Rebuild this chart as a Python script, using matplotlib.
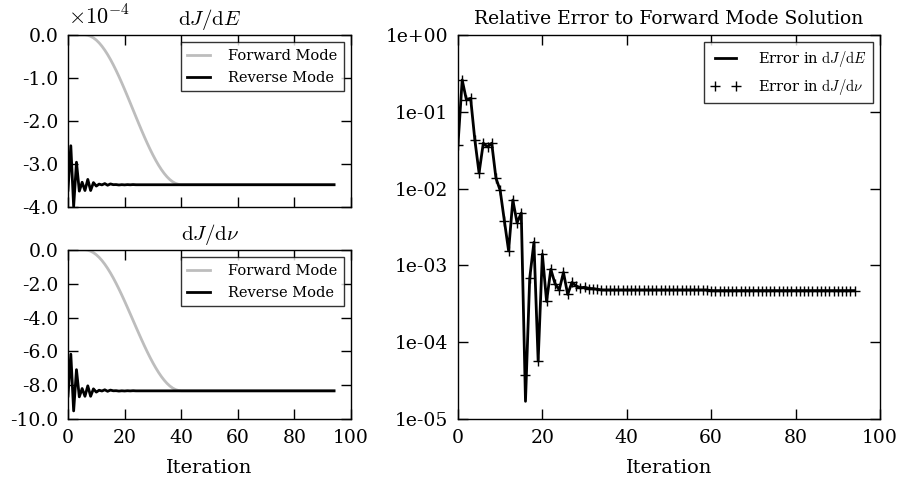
import matplotlib
matplotlib.use("Agg")
import matplotlib.pyplot as plt
from matplotlib.ticker import FormatStrFormatter, FuncFormatter, FixedLocator

plt.rcParams['font.family'] = ['DejaVu Serif']
plt.rcParams['mathtext.fontset'] = 'cm'
plt.rcParams['axes.unicode_minus'] = False

iterations = list(range(95))

# dJ/dE in units of 1e-4
fwd_dE = [0.0, 0.0, 0.0, 0.0, 0.0, 0.0, 0.0, -0.0074, -0.0296, -0.0664,
          -0.1175, -0.1824, -0.2606, -0.3514, -0.4541, -0.5678, -0.6914, -0.8240, -0.9644, -1.1114,
          -1.2638, -1.4203, -1.5795, -1.7400, -1.9005, -2.0597, -2.2162, -2.3686, -2.5156, -2.6560,
          -2.7886, -2.9122, -3.0259, -3.1286, -3.2194, -3.2976, -3.3625, -3.4136, -3.4504, -3.4726,
          -3.48, -3.48, -3.48, -3.48, -3.48, -3.48, -3.48, -3.48, -3.48, -3.48,
          -3.48, -3.48, -3.48, -3.48, -3.48, -3.48, -3.48, -3.48, -3.48, -3.48,
          -3.48, -3.48, -3.48, -3.48, -3.48, -3.48, -3.48, -3.48, -3.48, -3.48,
          -3.48, -3.48, -3.48, -3.48, -3.48, -3.48, -3.48, -3.48, -3.48, -3.48,
          -3.48, -3.48, -3.48, -3.48, -3.48, -3.48, -3.48, -3.48, -3.48, -3.48,
          -3.48, -3.48, -3.48, -3.48, -3.48]
rev_dE = [-3.609, -2.575, -3.990, -2.958, -3.630, -3.424, -3.616, -3.358, -3.616, -3.432,
          -3.513, -3.467, -3.485, -3.455, -3.493, -3.463, -3.480, -3.478, -3.487, -3.480,
          -3.485, -3.479, -3.483, -3.478, -3.482, -3.482, -3.482, -3.482, -3.482, -3.482,
          -3.482, -3.482, -3.482, -3.482, -3.482, -3.482, -3.482, -3.482, -3.482, -3.482,
          -3.482, -3.482, -3.482, -3.482, -3.482, -3.482, -3.482, -3.482, -3.482, -3.482,
          -3.482, -3.482, -3.482, -3.482, -3.482, -3.482, -3.482, -3.482, -3.482, -3.482,
          -3.482, -3.482, -3.482, -3.482, -3.482, -3.482, -3.482, -3.482, -3.482, -3.482,
          -3.482, -3.482, -3.482, -3.482, -3.482, -3.482, -3.482, -3.482, -3.482, -3.482,
          -3.482, -3.482, -3.482, -3.482, -3.482, -3.482, -3.482, -3.482, -3.482, -3.482,
          -3.482, -3.482, -3.482, -3.482, -3.482]

# dJ/dnu
fwd_dnu = [0.0, 0.0, 0.0, 0.0, 0.0, 0.0, 0.0, -0.0177, -0.0709, -0.1590,
           -0.2813, -0.4367, -0.6238, -0.8412, -1.0871, -1.3590, -1.6551, -1.9725, -2.3086, -2.6604,
           -3.0252, -3.3997, -3.7807, -4.1650, -4.5493, -4.9303, -5.3048, -5.6696, -6.0214, -6.3575,
           -6.6749, -6.9710, -7.2429, -7.4888, -7.7062, -7.8933, -8.0487, -8.1710, -8.2591, -8.3123,
           -8.33, -8.33, -8.33, -8.33, -8.33, -8.33, -8.33, -8.33, -8.33, -8.33,
           -8.33, -8.33, -8.33, -8.33, -8.33, -8.33, -8.33, -8.33, -8.33, -8.33,
           -8.33, -8.33, -8.33, -8.33, -8.33, -8.33, -8.33, -8.33, -8.33, -8.33,
           -8.33, -8.33, -8.33, -8.33, -8.33, -8.33, -8.33, -8.33, -8.33, -8.33,
           -8.33, -8.33, -8.33, -8.33, -8.33, -8.33, -8.33, -8.33, -8.33, -8.33,
           -8.33, -8.33, -8.33, -8.33, -8.33]
rev_dnu = [-8.638, -6.164, -9.521, -7.081, -8.688, -8.197, -8.655, -8.038, -8.655, -8.216,
           -8.409, -8.298, -8.343, -8.271, -8.360, -8.290, -8.330, -8.324, -8.347, -8.330,
           -8.342, -8.327, -8.337, -8.325, -8.334, -8.334, -8.334, -8.334, -8.334, -8.334,
           -8.334, -8.334, -8.334, -8.334, -8.334, -8.334, -8.334, -8.334, -8.334, -8.334,
           -8.334, -8.334, -8.334, -8.334, -8.334, -8.334, -8.334, -8.334, -8.334, -8.334,
           -8.334, -8.334, -8.334, -8.334, -8.334, -8.334, -8.334, -8.334, -8.334, -8.334,
           -8.334, -8.334, -8.334, -8.334, -8.334, -8.334, -8.334, -8.334, -8.334, -8.334,
           -8.334, -8.334, -8.334, -8.334, -8.334, -8.334, -8.334, -8.334, -8.334, -8.334,
           -8.334, -8.334, -8.334, -8.334, -8.334, -8.334, -8.334, -8.334, -8.334, -8.334,
           -8.334, -8.334, -8.334, -8.334, -8.334]

# relative errors
err_dE = [0.037, 0.26, 0.143, 0.15, 0.043, 0.016, 0.039, 0.035, 0.039, 0.0137,
          0.0095, 0.0038, 0.00155, 0.0071, 0.0036, 0.0048, 1.7e-5, 6.8e-4, 2.0e-3, 5.7e-5,
          1.4e-3, 3.4e-4, 8.9e-4, 5.8e-4, 4.8e-4, 8.1e-4, 4.2e-4, 6.0e-4, 5.4e-4, 5.1e-4,
          5.2e-4, 5.0e-4, 5.0e-4, 4.9e-4, 4.8e-4, 4.8e-4, 4.8e-4, 4.8e-4, 4.8e-4, 4.8e-4,
          4.8e-4, 4.8e-4, 4.8e-4, 4.8e-4, 4.8e-4, 4.8e-4, 4.8e-4, 4.8e-4, 4.8e-4, 4.8e-4,
          4.8e-4, 4.8e-4, 4.8e-4, 4.8e-4, 4.8e-4, 4.8e-4, 4.8e-4, 4.8e-4, 4.8e-4, 4.8e-4,
          4.7e-4, 4.7e-4, 4.7e-4, 4.7e-4, 4.7e-4, 4.7e-4, 4.7e-4, 4.7e-4, 4.7e-4, 4.7e-4,
          4.7e-4, 4.7e-4, 4.7e-4, 4.7e-4, 4.7e-4, 4.7e-4, 4.7e-4, 4.7e-4, 4.7e-4, 4.7e-4,
          4.7e-4, 4.7e-4, 4.7e-4, 4.7e-4, 4.7e-4, 4.7e-4, 4.7e-4, 4.7e-4, 4.7e-4, 4.7e-4,
          4.7e-4, 4.7e-4, 4.7e-4, 4.7e-4, 4.7e-4]
err_dnu = [0.037, 0.26, 0.143, 0.15, 0.043, 0.016, 0.039, 0.035, 0.039, 0.0137,
           0.0095, 0.0038, 0.00155, 0.0071, 0.0036, 0.0048, 3.7e-5, 6.8e-4, 2.0e-3, 5.7e-5,
           1.4e-3, 3.4e-4, 8.9e-4, 5.8e-4, 4.8e-4, 8.1e-4, 4.2e-4, 6.0e-4, 5.4e-4, 5.1e-4,
           5.2e-4, 5.0e-4, 5.0e-4, 4.9e-4, 4.8e-4, 4.8e-4, 4.8e-4, 4.8e-4, 4.8e-4, 4.8e-4,
           4.8e-4, 4.8e-4, 4.8e-4, 4.8e-4, 4.8e-4, 4.8e-4, 4.8e-4, 4.8e-4, 4.8e-4, 4.8e-4,
           4.8e-4, 4.8e-4, 4.8e-4, 4.8e-4, 4.8e-4, 4.8e-4, 4.8e-4, 4.8e-4, 4.8e-4, 4.8e-4,
           4.7e-4, 4.7e-4, 4.7e-4, 4.7e-4, 4.7e-4, 4.7e-4, 4.7e-4, 4.7e-4, 4.7e-4, 4.7e-4,
           4.7e-4, 4.7e-4, 4.7e-4, 4.7e-4, 4.7e-4, 4.7e-4, 4.7e-4, 4.7e-4, 4.7e-4, 4.7e-4,
           4.7e-4, 4.7e-4, 4.7e-4, 4.7e-4, 4.7e-4, 4.7e-4, 4.7e-4, 4.7e-4, 4.7e-4, 4.7e-4,
           4.7e-4, 4.7e-4, 4.7e-4, 4.7e-4, 4.7e-4]

xticks = [0, 20, 40, 60, 80, 100]
yticks_dE = [0.0, -1.0, -2.0, -3.0, -4.0]
yticks_dnu = [0.0, -2.0, -4.0, -6.0, -8.0, -10.0]
yticks_err = [1e0, 1e-1, 1e-2, 1e-3, 1e-4, 1e-5]

FS = 13.5
fig = plt.figure(figsize=(9.04, 4.87), dpi=100)
ax1 = fig.add_axes([0.0752, 0.5749, 0.3131, 0.3532])
ax2 = fig.add_axes([0.0752, 0.1396, 0.3131, 0.3471])
ax3 = fig.add_axes([0.5066, 0.1396, 0.4668, 0.7885])

gray = '#bdbdbd'
def style(ax):
    ax.tick_params(direction='in', top=True, right=True, length=7, width=1,
                   labelsize=FS, pad=7)
    ax.tick_params(which='minor', length=0)
    for s in ax.spines.values():
        s.set_linewidth(1.0)
    ax.set_xlim(0, 100)
    ax.set_xticks(xticks)

def legend_style(ax, hl, **kw):
    leg = ax.legend(loc='upper right', fontsize=10.5, frameon=True, fancybox=False,
                    handlelength=hl, handletextpad=1.2, borderaxespad=0.5,
                    borderpad=0.45, labelspacing=0.55, **kw)
    leg.get_frame().set_edgecolor('black')
    leg.get_frame().set_linewidth(1.0)
    return leg

for ax, fwd, rev, yt, title in [(ax1, fwd_dE, rev_dE, yticks_dE, r'$\mathrm{d}J/\mathrm{d}E$'),
                                (ax2, fwd_dnu, rev_dnu, yticks_dnu, r'$\mathrm{d}J/\mathrm{d}\nu$')]:
    ax.plot(iterations, fwd, color=gray, lw=2, label='Forward Mode')
    ax.plot(iterations, rev, color='black', lw=2, label='Reverse Mode')
    style(ax)
    ax.set_ylim(yt[-1], yt[0])
    ax.set_yticks(yt)
    ax.yaxis.set_major_formatter(FormatStrFormatter('%.1f'))
    ax.set_title(title, fontsize=15, pad=7)
    legend_style(ax, 1.6)

ax1.tick_params(labelbottom=False)
ax1.text(0.0, 1.03, r'$\times10^{-4}$', transform=ax1.transAxes, fontsize=16,
         ha='left', va='bottom')
ax2.set_xlabel('Iteration', fontsize=14, labelpad=9)

ax3.plot(iterations, err_dE, color='black', lw=2, label=r'Error in $\mathrm{d}J/\mathrm{d}E$')
ax3.plot(iterations, err_dnu, linestyle='none', marker='+', color='black', ms=7, mew=1,
         label=r'Error in $\mathrm{d}J/\mathrm{d}\nu$')
ax3.set_yscale('log')
style(ax3)
ax3.set_ylim(1e-5, 1e0)
ax3.yaxis.set_major_locator(FixedLocator(yticks_err))
ax3.yaxis.set_major_formatter(FuncFormatter(lambda v, p: '%.0e' % v))
ax3.set_title('Relative Error to Forward Mode Solution', fontsize=13.5, pad=8)
ax3.set_xlabel('Iteration', fontsize=14, labelpad=9)
legend_style(ax3, 2.0, numpoints=2)

fig.savefig('out.png', dpi=100)
